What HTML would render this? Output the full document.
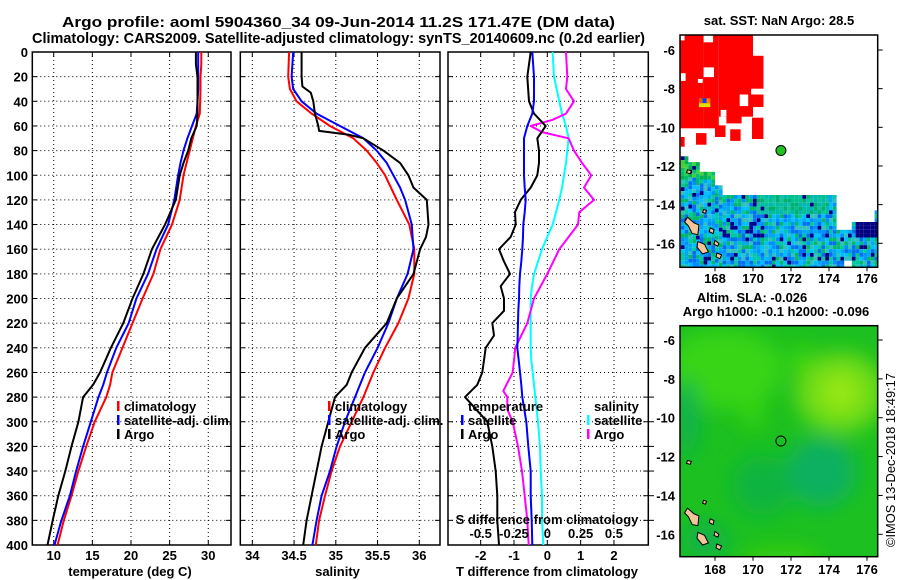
<!DOCTYPE html>
<html><head><meta charset="utf-8">
<style>
html,body{margin:0;padding:0;background:#fff;}
svg{display:block;font-family:"Liberation Sans",sans-serif;font-weight:bold;}
</style></head>
<body>
<svg id="fig" xmlns="http://www.w3.org/2000/svg" width="900" height="580" viewBox="0 0 900 580">
<rect width="900" height="580" fill="#fff"/>
<text x="62" y="27" font-size="15" textLength="553" lengthAdjust="spacingAndGlyphs">Argo profile: aoml 5904360_34 09-Jun-2014 11.2S 171.47E (DM data)</text>
<text x="32" y="43" font-size="15" textLength="613" lengthAdjust="spacingAndGlyphs">Climatology: CARS2009. Satellite-adjusted climatology: synTS_20140609.nc (0.2d earlier)</text>
<g id="g1"></g>
<g id="g2"></g>
<g id="g3"></g>
<g id="m1"></g>
<g id="m2"></g>
<text x="779" y="25" font-size="13" text-anchor="middle">sat. SST: NaN Argo: 28.5</text>
<text x="752" y="302" font-size="13" text-anchor="middle">Altim. SLA: -0.026</text>
<text x="776" y="316" font-size="13" text-anchor="middle">Argo h1000: -0.1 h2000: -0.096</text>
<text transform="translate(895,460) rotate(-90)" font-size="13" font-weight="normal" text-anchor="middle" textLength="174" lengthAdjust="spacingAndGlyphs">©IMOS 13-Dec-2018 18:49:17</text>
</svg>
<script>
// ---------- profile data ----------
const depthTicks = [0,20,40,60,80,100,120,140,160,180,200,220,240,260,280,300,320,340,360,380,400];
const tDepth = [0,10,20,30,40,50,60,70,80,90,100,120,140,160,180,200,220,240,260,270,280,300,320,340,360,380,400];
const tClim = [29.1,29.1,29.0,29.0,28.95,28.9,28.4,28.0,27.6,27.2,26.8,26.3,25.3,23.8,22.9,21.5,20.2,18.9,17.6,17.3,16.8,15.3,14.2,13.2,12.3,11.3,10.5];
const tSat = [28.7,28.7,28.7,28.7,28.6,28.5,27.9,27.3,26.8,26.4,26.1,25.6,24.8,23.3,22.2,20.7,19.7,18.1,16.9,16.4,15.8,14.8,13.8,12.9,12.1,11.0,10.1];
const tArgo = [28.4,28.4,28.6,28.6,28.6,28.6,28.5,27.8,27.4,26.8,26.3,25.8,24.4,22.7,21.6,20.2,19.0,17.4,16.0,15.1,13.8,13.2,12.3,11.5,10.6,9.87,9.2];
const tTicks = [10,15,20,25,30];

const sDepth = [0,20,30,40,50,60,65,70,80,90,100,110,120,140,150,160,180,200,220,240,260,270,280,300,320,340,360,380,400];
const sClim = [34.44,34.43,34.45,34.53,34.71,34.93,35.07,35.21,35.37,35.49,35.59,35.66,35.73,35.88,35.91,35.94,35.94,35.87,35.75,35.59,35.45,35.39,35.33,35.19,35.05,34.95,34.87,34.80,34.76];
const sSat = [34.49,34.47,34.49,34.59,34.77,35.05,35.19,35.33,35.49,35.61,35.69,35.77,35.83,35.91,35.92,35.93,35.86,35.73,35.63,35.50,35.35,35.29,35.23,35.11,35.01,34.93,34.83,34.77,34.72];
const sArgoDepth = [0,20,28,33,40,50,60,64,67,70,80,90,100,110,120,140,150,160,180,200,220,240,260,270,280,300,320,340,360,380,400];
const sArgo = [34.59,34.59,34.60,34.70,34.73,34.75,34.79,34.80,35.15,35.33,35.57,35.77,35.87,35.93,36.09,36.11,36.08,36.01,35.93,35.73,35.61,35.35,35.19,35.13,34.99,34.91,34.83,34.77,34.71,34.65,34.61];
const sTicks = [34,34.5,35,35.5,36];
const sTickLabels = ["34","34.5","35","35.5","36"];

const dDepth = [0,20,40,50,60,70,80,90,100,110,120,130,140,150,160,170,180,190,200,210,220,230,240,250,260,270,280,300,320,340,360,380,400];
const tDiffArgo = [-0.5,-0.6,-0.55,-0.4,-0.05,-0.3,-0.25,-0.25,-0.3,-0.5,-0.8,-0.97,-0.95,-1.1,-1.45,-1.3,-1.12,-1.4,-1.3,-1.3,-1.65,-1.6,-1.85,-1.9,-1.95,-2.1,-2.47,-1.8,-1.65,-1.55,-1.5,-1.5,-1.45];
const tDiffSat = [-0.45,-0.4,-0.4,-0.45,-0.6,-0.7,-0.7,-0.7,-0.7,-0.68,-0.65,-0.68,-0.72,-0.73,-0.75,-0.78,-0.82,-0.84,-0.85,-0.87,-0.88,-0.89,-0.9,-0.86,-0.82,-0.78,-0.75,-0.63,-0.57,-0.5,-0.5,-0.47,-0.45];
const sDiffSat = [0.04,0.05,0.09,0.11,0.14,0.16,0.15,0.14,0.125,0.11,0.09,0.065,0.04,0.0,-0.04,-0.07,-0.1,-0.115,-0.125,-0.125,-0.125,-0.125,-0.125,-0.12,-0.11,-0.1,-0.09,-0.07,-0.055,-0.05,-0.04,-0.04,-0.03];
const sDiffArgoDepth = [0,20,30,40,50,55,60,65,70,80,90,100,110,120,130,140,160,180,200,220,240,260,275,280,290,300,320,340,360,380,400];
const sDiffArgo = [0.14,0.15,0.14,0.2,0.14,0.04,-0.125,-0.04,0.16,0.2,0.26,0.33,0.275,0.35,0.24,0.23,0.09,0.0,-0.1,-0.15,-0.24,-0.26,-0.33,-0.3,-0.3,-0.26,-0.22,-0.19,-0.17,-0.15,-0.14];
const dtTicks = [-2,-1,0,1,2];
const dsTicks = [-0.5,-0.25,0,0.25,0.5];
const dsTickLabels = ["-0.5","-0.25","0","0.25","0.5"];

// ---------- map data ----------
const mapLonTicks = [168,170,172,174,176];
const mapLatTicks = [-6,-8,-10,-12,-14,-16];
const argoLon = 171.47, argoLat = -11.2;

const NS = "http://www.w3.org/2000/svg";
function mk(parent, tag, attrs, txt){
  const e = document.createElementNS(NS, tag);
  for (const k in attrs) e.setAttribute(k, attrs[k]);
  if (txt !== undefined) e.textContent = txt;
  parent.appendChild(e);
  return e;
}
const yTop = 52, yBot = 545;
function depthY(d){ return yTop + d*(yBot-yTop)/400; }

function panel(g, x0, x1, xmin, xmax, ticks, labels, showDepthLabels, name){
  const xs = v => x0 + (v-xmin)*(x1-x0)/(xmax-xmin);
  const gr = mk(g,'g',{});
  
  
  depthTicks.forEach(d=>{
    if(d>0 && d<400){
      const l = mk(gr,'line',{x1:x0,x2:x1,y1:depthY(d),y2:depthY(d),stroke:'#000','stroke-width':1,'stroke-dasharray':'1,3'});
      
      
      mk(gr,'line',{x1:x0,x2:x0+5,y1:depthY(d),y2:depthY(d),stroke:'#000','stroke-width':1});
      mk(gr,'line',{x1:x1-5,x2:x1,y1:depthY(d),y2:depthY(d),stroke:'#000','stroke-width':1});
    }
    if(showDepthLabels){
      const t = mk(g,'text',{x:28,y:depthY(d)+5,'font-size':13,'text-anchor':'end'}, String(d));
      
      
    }
  });
  ticks.forEach((v,i)=>{
    const x = xs(v);
    const l = mk(gr,'line',{x1:x,x2:x,y1:yTop,y2:yBot,stroke:'#000','stroke-width':1,'stroke-dasharray':'1,3'});
    
    
    mk(gr,'line',{x1:x,x2:x,y1:yBot-5,y2:yBot,stroke:'#000','stroke-width':1});
    mk(gr,'line',{x1:x,x2:x,y1:yTop,y2:yTop+5,stroke:'#000','stroke-width':1});
    const t = mk(g,'text',{x:x,y:560,'font-size':13,'text-anchor':'middle'}, labels[i]);
    
    
  });
  const b = mk(g,'rect',{x:x0,y:yTop,width:x1-x0,height:yBot-yTop,fill:'none',stroke:'#000','stroke-width':1.5});
  
  
  return xs;
}
function series(g, xs, vals, depths, color, name){
  const pts = vals.map((v,i)=> xs(v).toFixed(1)+','+depthY(depths[i]).toFixed(1)).join(' ');
  const p = mk(g,'polyline',{points:pts,fill:'none',stroke:color,'stroke-width':2,'stroke-linejoin':'round'});
  
  
}
function legend(g, x, y, color, label, name){
  if(color) mk(g,'rect',{x:x,y:y-9,width:2.5,height:10,fill:color});
  const t = mk(g,'text',{x:x+7,y:y+1,'font-size':13}, label);
  
  
}

// Panel 1
const g1 = document.getElementById('g1');
const xT = panel(g1, 32.3, 231, 7.23, 32.94, tTicks, tTicks.map(String), true, 'temperature');
series(g1, xT, tClim, tDepth, '#ff0000', 'temperature-climatology-line');
series(g1, xT, tSat, tDepth, '#0000ff', 'temperature-satellite-line');
series(g1, xT, tArgo, tDepth, '#000000', 'temperature-argo-line');
legend(g1, 117, 410, '#ff0000', 'climatology', 'legend-climatology');
legend(g1, 117, 424, '#0000ff', 'satellite-adj. clim.', 'legend-satellite-adj');
legend(g1, 117, 438, '#000000', 'Argo', 'legend-argo');
let t = mk(g1,'text',{x:130,y:576,'font-size':13,'text-anchor':'middle'},'temperature (deg C)');
 

// Panel 2
const g2 = document.getElementById('g2');
const xS = panel(g2, 240.3, 440, 33.856, 36.248, sTicks, sTickLabels, false, 'salinity');
series(g2, xS, sClim, sDepth, '#ff0000', 'salinity-climatology-line');
series(g2, xS, sSat, sDepth, '#0000ff', 'salinity-satellite-line');
series(g2, xS, sArgo, sArgoDepth, '#000000', 'salinity-argo-line');
legend(g2, 328, 410, '#ff0000', 'climatology', 'legend-climatology-2');
legend(g2, 328, 424, '#0000ff', 'satellite-adj. clim.', 'legend-satellite-adj-2');
legend(g2, 328, 438, '#000000', 'Argo', 'legend-argo-2');
t = mk(g2,'text',{x:337.5,y:576,'font-size':13,'text-anchor':'middle'},'salinity');
 

// Panel 3
const g3 = document.getElementById('g3');
const xD = panel(g3, 448, 648.3, -2.98, 3.03, dtTicks, dtTicks.map(String), false, 'difference');
const xDS = v => xD(v*4);
depthTicks.forEach(d=>{ if(d>0&&d<400) mk(g3,'line',{x1:648.3,x2:654,y1:depthY(d),y2:depthY(d),stroke:'#000','stroke-width':1}); });
series(g3, xDS, sDiffSat, dDepth, '#00ffff', 'salinity-diff-satellite-line');
series(g3, xDS, sDiffArgo, sDiffArgoDepth, '#ff00ff', 'salinity-diff-argo-line');
series(g3, xD, tDiffArgo, dDepth, '#000000', 'temperature-diff-argo-line');
series(g3, xD, tDiffSat, dDepth, '#0000ff', 'temperature-diff-satellite-line');
legend(g3, 461, 410, null, 'temperature', 'legend-temperature-header');
legend(g3, 461, 424, '#0000ff', 'satellite', 'legend-temperature-satellite');
legend(g3, 461, 438, '#000000', 'Argo', 'legend-temperature-argo');
legend(g3, 587, 410, null, 'salinity', 'legend-salinity-header');
legend(g3, 587, 424, '#00ffff', 'satellite', 'legend-salinity-satellite');
legend(g3, 587, 438, '#ff00ff', 'Argo', 'legend-salinity-argo');
t = mk(g3,'text',{x:547,y:524,'font-size':13,'text-anchor':'middle'},'S difference from climatology');
 
dsTicks.forEach((v,i)=>{
  const tt = mk(g3,'text',{x:xDS(v),y:538,'font-size':13,'text-anchor':'middle'}, dsTickLabels[i]);
   
});
t = mk(g3,'text',{x:547,y:576,'font-size':13,'text-anchor':'middle'},'T difference from climatology');
 

// ---------- Maps ----------
const MX0 = 680, MX1 = 877.7;
function lonX(l){ return 715 + (l-168)*19; }
function mapFrame(g, y0, y1, latY, labY, name){
  mapLatTicks.forEach(la=>{
    const y = latY(la);
    mk(g,'line',{x1:MX1,x2:MX1+5,y1:y,y2:y,stroke:'#000','stroke-width':1});
    const tt = mk(g,'text',{x:675,y:y+5,'font-size':13,'text-anchor':'end'}, String(la));
     
  });
  mapLonTicks.forEach(lo=>{
    const x = lonX(lo);
    mk(g,'line',{x1:x,x2:x,y1:y1,y2:y1+4,stroke:'#000','stroke-width':1});
    const tt = mk(g,'text',{x:x,y:labY,'font-size':13,'text-anchor':'middle'}, String(lo));
     
  });
  const f = mk(g,'rect',{x:MX0,y:y0,width:MX1-MX0,height:y1-y0,fill:'none',stroke:'#000','stroke-width':1.5});
   
}
function drect(g, latY, lo0, lo1, la0, la1, fill){
  const x = lonX(lo0), y = latY(la0);
  return mk(g,'rect',{x:x.toFixed(1),y:y.toFixed(1),width:(lonX(lo1)-x).toFixed(1),height:(latY(la1)-y).toFixed(1),fill:fill});
}
const islands = [
  [[166.55,-14.65],[166.9,-14.95],[167.15,-15.05],[167.1,-15.55],[166.8,-15.5],[166.6,-15.1],[166.4,-14.9]],
  [[167.1,-15.9],[167.45,-16.05],[167.65,-16.45],[167.35,-16.55],[167.05,-16.2]],
  [[167.75,-15.2],[167.95,-15.3],[167.9,-15.5],[167.7,-15.4]],
  [[168.0,-15.85],[168.2,-16.0],[168.15,-16.15],[167.95,-16.05]],
  [[168.1,-16.5],[168.35,-16.6],[168.25,-16.8],[168.05,-16.7]],
  [[167.4,-14.25],[167.55,-14.3],[167.5,-14.45],[167.35,-14.4]],
  [[166.55,-12.2],[166.75,-12.25],[166.7,-12.4],[166.5,-12.35]]
];
function drawIslands(g, latY){
  islands.forEach(poly=>{
    const p = mk(g,'polygon',{points:poly.map(q=>lonX(q[0]).toFixed(1)+','+latY(q[1]).toFixed(1)).join(' '),fill:'#f5c59a',stroke:'#000','stroke-width':1});
     
  });
}

// Map 1 (SST)
const m1 = document.getElementById('m1');
const lat1Y = la => 50 + (-6-la)*19.33;
const y10 = 35, y11 = 267.3;
const c1 = mk(m1,'clipPath',{id:'clip1'}); mk(c1,'rect',{x:MX0,y:y10,width:MX1-MX0,height:y11-y10});
const mg1 = mk(m1,'g',{'clip-path':'url(#clip1)'});
mk(mg1,'rect',{x:MX0,y:y10,width:MX1-MX0,height:y11-y10,fill:'#fff'});
[[166.1,167.4,-5.0,-10.05],[167.4,168.2,-5.0,-10.05],[168.2,170.0,-5.0,-9.45],[170.0,170.55,-6.3,-8.95],
 [167.0,167.55,-10.3,-10.9],[168.0,168.55,-9.9,-10.5],[168.8,169.35,-10.1,-10.7],[169.95,170.55,-9.5,-10.6],
 [166.2,166.4,-10.5,-11.0],[168.6,169.4,-9.4,-9.8]].forEach(r=>{
  const e = drect(mg1, lat1Y, r[0],r[1],r[2],r[3],'#ff0000');
   
});
[[166.2,166.45,-7.2,-7.6],[167.1,167.35,-7.5,-7.7],[167.4,167.95,-6.9,-7.4],[169.3,169.75,-8.3,-8.9],[168.3,168.6,-9.1,-9.45],[169.9,170.55,-8.0,-8.3],[166.1,166.4,-5.0,-5.5],[167.4,167.9,-5.0,-5.6]].forEach(r=>{
  drect(mg1, lat1Y, r[0],r[1],r[2],r[3],'#fff');
});
drect(mg1, lat1Y, 167.15,167.35,-8.5,-8.75,'#e06000');
drect(mg1, lat1Y, 167.35,167.55,-8.5,-8.75,'#0040ff');
drect(mg1, lat1Y, 167.55,167.75,-8.5,-8.75,'#ff8000');
drect(mg1, lat1Y, 167.15,167.75,-8.75,-8.95,'#e0e000');
function oceanTop(lo){
  if(lo<166.6) return -11.5;
  if(lo<167.2) return -11.8;
  if(lo<168.0) return -12.3;
  if(lo<168.3) return -13.0;
  if(lo<174.4) return -13.5;
  if(lo<175.2) return -15.3;
  if(lo<176.4) return -14.9;
  return -14.3;
}
const pal = ['#00c0ff','#00a8f0','#0070f0','#00c8a0','#00b870','#30c0c0','#0090ff'];
function hsh(a,b){ let h = (a*374761393 + b*668265263) >>> 0; h = ((h ^ (h>>>13)) * 1274126177) >>> 0; return (h ^ (h>>>16)) >>> 0; }
for(let i=0;i<52;i++){
  const lo = 166.2 + i*0.2;
  const top = oceanTop(lo+0.1);
  for(let j=0;j<40;j++){
    const la = top - j*0.2;
    if(la < -17.4) break;
    if(lo>174.7 && lo<175.2 && la<-16.8) continue;
    const h = hsh(i,j);
    let col = pal[h % pal.length];
    if(la>-12.6 && lo<168) col = ['#00c070','#00b050','#40d040'][h%3];
    if(la>-14.4 && la<-13.4 && lo>170 && lo<174) col = ['#00c090','#00b070','#10c0a0','#00b8b0'][h%4];
    if(la<-14.6 && la>-15.6 && lo>168 && lo<170.5 && h%3==0) col = '#000090';
    if(lo>175.2 && la>-15.6 && la<-14.8) col = '#000080';
    if(h%23==0) col = '#000080';
    const e = drect(mg1, lat1Y, lo, lo+0.2, la, la-0.2, col);
     
  }
}
drawIslands(mg1, lat1Y);
const am1 = mk(mg1,'circle',{cx:lonX(argoLon),cy:lat1Y(argoLat),r:5,fill:'#20c020',stroke:'#000','stroke-width':1});
 
mapFrame(m1, y10, y11, lat1Y, 283, 'sst-map');

// Map 2 (SLA)
const m2 = document.getElementById('m2');
const lat2Y = la => 340 + (-6-la)*19.43;
const y20 = 325.7, y21 = 556.7;
const defs = mk(m2,'defs',{});
const blur = mk(defs,'filter',{id:'bl',x:'-50%',y:'-50%',width:'200%',height:'200%'});
mk(blur,'feGaussianBlur',{stdDeviation:10});
const c2 = mk(defs,'clipPath',{id:'clip2'}); mk(c2,'rect',{x:MX0,y:y20,width:MX1-MX0,height:y21-y20});
const mg2 = mk(m2,'g',{'clip-path':'url(#clip2)'});
const bg2 = mk(mg2,'rect',{x:MX0,y:y20,width:MX1-MX0,height:y21-y20,fill:'#1cc020'});
 
const bl = mk(mg2,'g',{filter:'url(#bl)'});
[[168.5,-7.5,60,40,'#38d414'],[166.5,-10,12,40,'#10b050'],[174.6,-8.7,45,40,'#70dc18'],[174.6,-8.7,18,18,'#98e818'],
 [173.6,-12.8,35,35,'#08b060'],[170.5,-13.5,30,30,'#10b440'],[167.5,-16.3,22,16,'#10b050'],[171.5,-17.3,40,10,'#40d010'],
 [170.0,-9.8,12,14,'#38d410'],[172.5,-7.0,12,14,'#38d410']].forEach(b=>{
  mk(bl,'ellipse',{cx:lonX(b[0]),cy:lat2Y(b[1]),rx:b[2],ry:b[3],fill:b[4]});
});
drawIslands(mg2, lat2Y);
const am2 = mk(mg2,'circle',{cx:lonX(argoLon),cy:lat2Y(argoLat),r:5,fill:'none',stroke:'#000','stroke-width':1});
 
mapFrame(m2, y20, y21, lat2Y, 574, 'sla-map');
</script>
</body></html>
